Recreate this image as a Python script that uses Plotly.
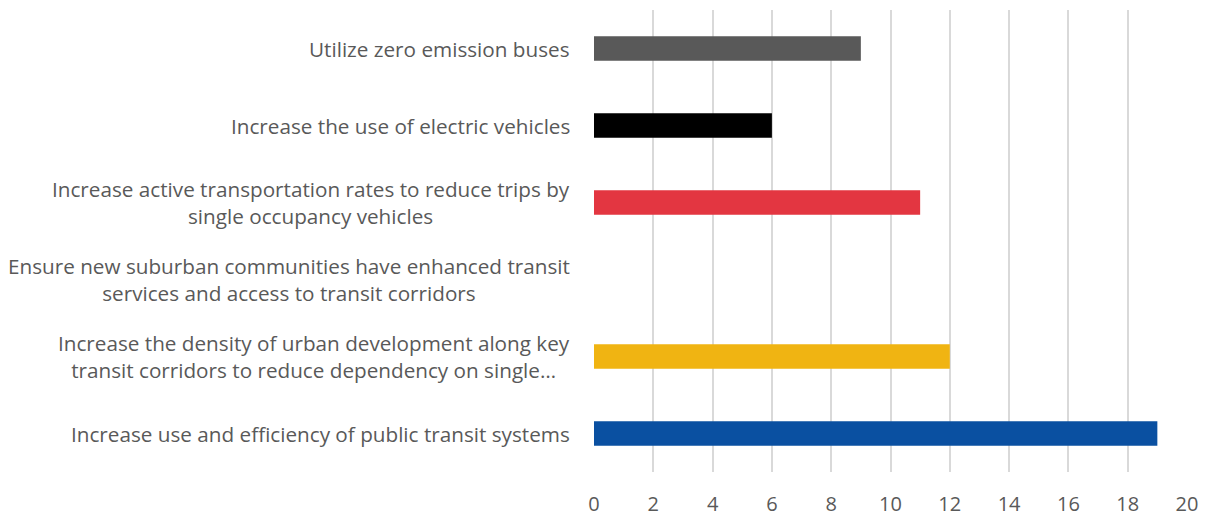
import plotly.graph_objects as go

# categories bottom -> top
categories = [
    "Increase use and efficiency of public transit systems",
    "Increase the density of urban development along key<br>transit corridors to reduce dependency on single…",
    "Ensure new suburban communities have enhanced transit<br>services and access to transit corridors",
    "Increase active transportation rates to reduce trips by<br>single occupancy vehicles",
    "Increase the use of electric vehicles",
    "Utilize zero emission buses",
]
values = [19, 12, 0, 11, 6, 9]
bar_colors = ["#0a50a1", "#f0b412", "#7f7f7f", "#e33641", "#000000", "#595959"]
x_ticks = list(range(0, 21, 2))

font_family = "'Open Sans', sans-serif"
text_color = "#595959"

fig = go.Figure()
fig.add_trace(go.Bar(
    y=categories,
    x=values,
    orientation="h",
    marker=dict(color=bar_colors, line=dict(width=0)),
    width=0.32,
    hoverinfo="x+y",
))

# category labels as annotations so wrapped lines stay centred
annotations = []
for cat in categories:
    annotations.append(dict(
        x=0, xref="paper", y=cat, yref="y",
        text=cat, showarrow=False,
        xanchor="right", yanchor="middle", align="center",
        xshift=-22,
        font=dict(family=font_family, size=20.7, color=text_color),
    ))

# page body has an 8px margin, so the figure is a bit smaller than the window
fig.update_layout(
    width=1203, height=511,
    margin=dict(l=586, r=24, t=2, b=45),
    paper_bgcolor="white",
    plot_bgcolor="white",
    showlegend=False,
    bargap=0.68,
    annotations=annotations,
    xaxis=dict(
        range=[0, 20],
        tickvals=x_ticks,
        showgrid=True, gridcolor="#d9d9d9", gridwidth=2,
        zeroline=False, showline=False,
        ticks="",
        tickfont=dict(family=font_family, size=20, color=text_color),
        ticklabelstandoff=18,
    ),
    yaxis=dict(
        categoryorder="array", categoryarray=categories,
        showticklabels=False, showgrid=False, zeroline=False, showline=False,
        ticks="",
    ),
)

fig.write_html("out.html")
